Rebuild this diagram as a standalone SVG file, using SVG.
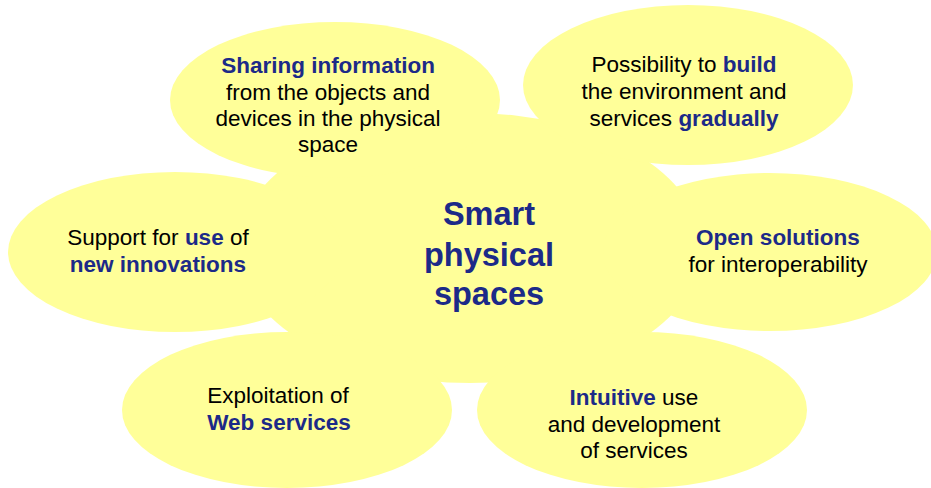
<svg xmlns="http://www.w3.org/2000/svg" width="931" height="488" viewBox="0 0 931 488">
<style>
.blob{fill:#FFFF99;stroke:none}
text{font-family:"Liberation Sans",Arial,sans-serif;font-size:22.5px;fill:#000;text-anchor:middle}
.b{font-weight:bold;fill:#1C2A88}
.big{font-family:"Liberation Sans",Arial,sans-serif;font-size:32.5px;font-weight:bold;fill:#1C2A88;text-anchor:middle}
</style>
<rect width="931" height="488" fill="#fff"/>
<g id="center-shape"><ellipse class="blob" cx="470" cy="248" rx="232" ry="135"/></g>
<g id="n-sharing"><ellipse class="blob" cx="335" cy="100" rx="165" ry="78"/>
<text x="328" y="73"><tspan class="b">Sharing information</tspan></text>
<text x="328" y="99.5">from the objects and</text>
<text x="328" y="126">devices in the physical</text>
<text x="328" y="152">space</text></g>
<g id="n-build"><ellipse class="blob" cx="688" cy="85" rx="165" ry="80"/>
<text x="684" y="72">Possibility to <tspan class="b">build</tspan></text>
<text x="684" y="99">the environment and</text>
<text x="684" y="126">services <tspan class="b">gradually</tspan></text></g>
<g id="n-support"><ellipse class="blob" cx="175" cy="252" rx="167" ry="80"/>
<text x="158" y="245">Support for <tspan class="b">use</tspan> of</text>
<text x="158" y="272"><tspan class="b">new innovations</tspan></text></g>
<g id="n-open"><ellipse class="blob" cx="770" cy="252" rx="167" ry="79"/>
<text x="778" y="245"><tspan class="b">Open solutions</tspan></text>
<text x="778" y="272">for interoperability</text></g>
<g id="n-web"><ellipse class="blob" cx="287" cy="410" rx="165" ry="78"/>
<text x="278" y="403">Exploitation of</text>
<text x="279" y="430"><tspan class="b">Web services</tspan></text></g>
<g id="n-intuitive"><ellipse class="blob" cx="642" cy="410" rx="165" ry="78"/>
<text x="634" y="405"><tspan class="b">Intuitive</tspan> use</text>
<text x="634" y="432">and development</text>
<text x="634" y="458">of services</text></g>
<g id="n-center">
<text class="big" x="489" y="225">Smart</text>
<text class="big" x="489" y="266">physical</text>
<text class="big" x="489" y="305">spaces</text></g>
<g id="connectors"></g>
</svg>
